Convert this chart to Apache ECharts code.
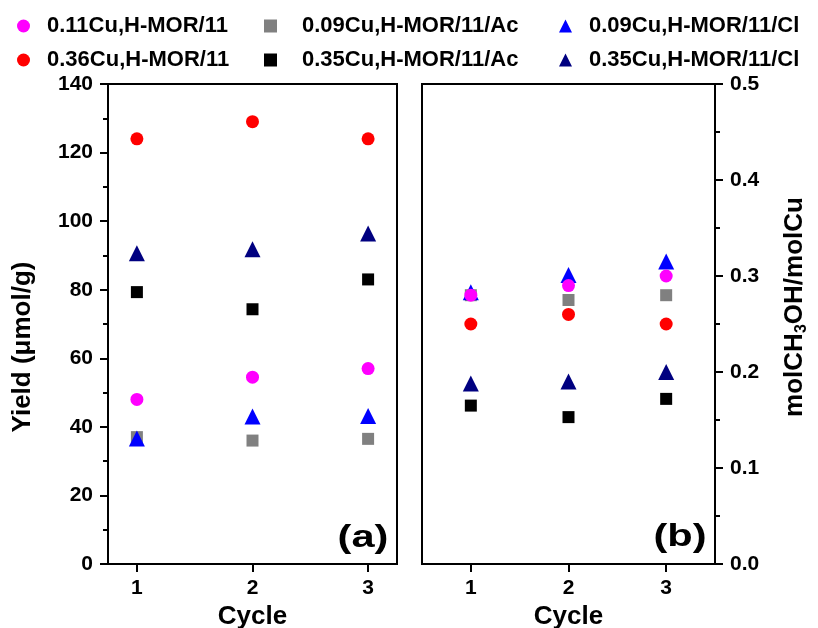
<!DOCTYPE html>
<html>
<head>
    <meta charset="utf-8" />
    <title>Cu-MOR cycles</title>
    <script src="https://cdn.jsdelivr.net/npm/echarts@6/dist/echarts.min.js"></script>
    <style>
        html, body { margin: 0; padding: 0; background: #fff; }
        #chart { width: 818px; height: 628px; }
    </style>
</head>
<body>
    <div id="chart"></div>
    <script type="text/javascript">

        var cycles = [1, 2, 3];
        var names = ['0.11Cu,H-MOR/11', '0.36Cu,H-MOR/11', '0.09Cu,H-MOR/11/Ac',
                     '0.35Cu,H-MOR/11/Ac', '0.09Cu,H-MOR/11/Cl', '0.35Cu,H-MOR/11/Cl'];

        // (a) yield, umol/g
        var yield011 = [48, 54.5, 57];
        var yield036 = [124, 129, 124];
        var yield009Ac = [37, 36, 36.5];
        var yield035Ac = [79.3, 74.3, 83];
        var yield009Cl = [36.6, 43, 43.2];
        var yield035Cl = [90.6, 91.8, 96.4];

        // (b) molCH3OH/molCu
        var ratio011 = [0.28, 0.29, 0.30];
        var ratio036 = [0.25, 0.26, 0.25];
        var ratio009Ac = [0.28, 0.275, 0.28];
        var ratio035Ac = [0.165, 0.153, 0.172];
        var ratio009Cl = [0.283, 0.301, 0.315];
        var ratio035Cl = [0.188, 0.19, 0.20];

        var font = 'Liberation Sans, Arial, sans-serif';

        function pts(vals) {
            return cycles.map(function (c, i) { return [c, vals[i]]; });
        }

        // drawing order: gray, black, blue, navy, red, magenta on top
        var styles = [
            { name: names[2], symbol: 'rect', size: 12, color: '#808080', a: yield009Ac, b: ratio009Ac },
            { name: names[3], symbol: 'rect', size: 12, color: '#000000', a: yield035Ac, b: ratio035Ac },
            { name: names[4], symbol: 'triangle', size: 16, color: '#0000ff', a: yield009Cl, b: ratio009Cl },
            { name: names[5], symbol: 'triangle', size: 16, color: '#000080', a: yield035Cl, b: ratio035Cl },
            { name: names[1], symbol: 'circle', size: 13, color: '#ff0000', a: yield036, b: ratio036 },
            { name: names[0], symbol: 'circle', size: 13, color: '#ff00ff', a: yield011, b: ratio011 }
        ];

        var series = [];
        styles.forEach(function (s) {
            [0, 1].forEach(function (k) {
                series.push({
                    type: 'scatter',
                    name: s.name,
                    xAxisIndex: k,
                    yAxisIndex: k,
                    symbol: s.symbol,
                    symbolSize: s.size,
                    itemStyle: { color: s.color, opacity: 1 },
                    data: pts(k === 0 ? s.a : s.b)
                });
            });
        });

        function legend(left, pad, data) {
            return {
                orient: 'vertical',
                left: left,
                top: 10,
                itemWidth: 13,
                itemHeight: 13,
                itemGap: 12,
                data: data,
                textStyle: { fontFamily: font, fontWeight: 'bold', fontSize: 22, color: '#000', lineHeight: 22, padding: [0, 0, 0, pad] }
            };
        }

        var axisLine = { lineStyle: { color: '#000', width: 2 } };
        var labelStyle = { fontFamily: font, fontWeight: 'bold', fontSize: 21, color: '#000' };
        var nameStyle = { fontFamily: font, fontWeight: 'bold', fontSize: 26, color: '#000' };

        function xAxis(idx, min, max) {
            return {
                type: 'value',
                gridIndex: idx,
                min: min,
                max: max,
                name: 'Cycle',
                nameLocation: 'middle',
                nameGap: 39,
                nameTextStyle: nameStyle,
                axisLine: axisLine,
                splitLine: { show: false },
                axisTick: { show: true, length: 8, lineStyle: { width: 2, color: '#000' }, customValues: cycles },
                axisLabel: Object.assign({ customValues: cycles, margin: 14 }, labelStyle)
            };
        }

        function yAxis(idx, pos, max, step, fmt) {
            return {
                type: 'value',
                gridIndex: idx,
                position: pos,
                min: 0,
                max: max,
                interval: step,
                axisLine: axisLine,
                splitLine: { show: false },
                axisTick: { length: 8, lineStyle: { width: 2, color: '#000' } },
                minorTick: { show: true, splitNumber: 2, length: 5, lineStyle: { width: 2, color: '#000' } },
                axisLabel: Object.assign({ margin: 15, formatter: fmt }, labelStyle)
            };
        }

        var chart = echarts.init(document.getElementById('chart'));
        chart.setOption({
            animation: false,
            backgroundColor: '#fff',
            legend: [
                legend(12, 12, [names[0], names[1]]),
                legend(259, 20, [names[2], names[3]]),
                legend(554, 12, [names[4], names[5]])
            ],
            grid: [
                { left: 108, right: 421, top: 84, bottom: 64, outerBoundsMode: 'none', show: true, borderColor: '#000', borderWidth: 2 },
                { left: 422, right: 103, top: 84, bottom: 64, outerBoundsMode: 'none', show: true, borderColor: '#000', borderWidth: 2 }
            ],
            xAxis: [xAxis(0, 0.75, 3.25), xAxis(1, 0.5, 3.5)],
            yAxis: [
                yAxis(0, 'left', 140, 20, null),
                yAxis(1, 'right', 0.5, 0.1, function (v) { return v.toFixed(1); })
            ],
            graphic: [
                {
                    type: 'text', x: 23, y: 347, rotation: Math.PI / 2,
                    style: { text: 'Yield (\u03bcmol/g)', fontFamily: font, fontWeight: 'bold', fontSize: 26, fill: '#000', align: 'center', verticalAlign: 'middle' }
                },
                {
                    type: 'text', x: 795, y: 307, rotation: Math.PI / 2,
                    style: {
                        text: '{a|molCH}{s|3}{a|OH/molCu}',
                        align: 'center', verticalAlign: 'middle',
                        rich: {
                            a: { fontFamily: font, fontWeight: 'bold', fontSize: 26, fill: '#000', lineHeight: 30 },
                            s: { fontFamily: font, fontWeight: 'bold', fontSize: 16, fill: '#000', lineHeight: 30, verticalAlign: 'bottom', padding: [12, 0, 0, 0] }
                        }
                    }
                },
                { type: 'text', x: 363, y: 538, scaleX: 1.3, style: { text: '(a)', fontFamily: font, fontWeight: 'bold', fontSize: 32, fill: '#000', align: 'center', verticalAlign: 'middle' } },
                { type: 'text', x: 680, y: 537, scaleX: 1.3, style: { text: '(b)', fontFamily: font, fontWeight: 'bold', fontSize: 32, fill: '#000', align: 'center', verticalAlign: 'middle' } }
            ],
            series: series
        });

    </script>
</body>
</html>
